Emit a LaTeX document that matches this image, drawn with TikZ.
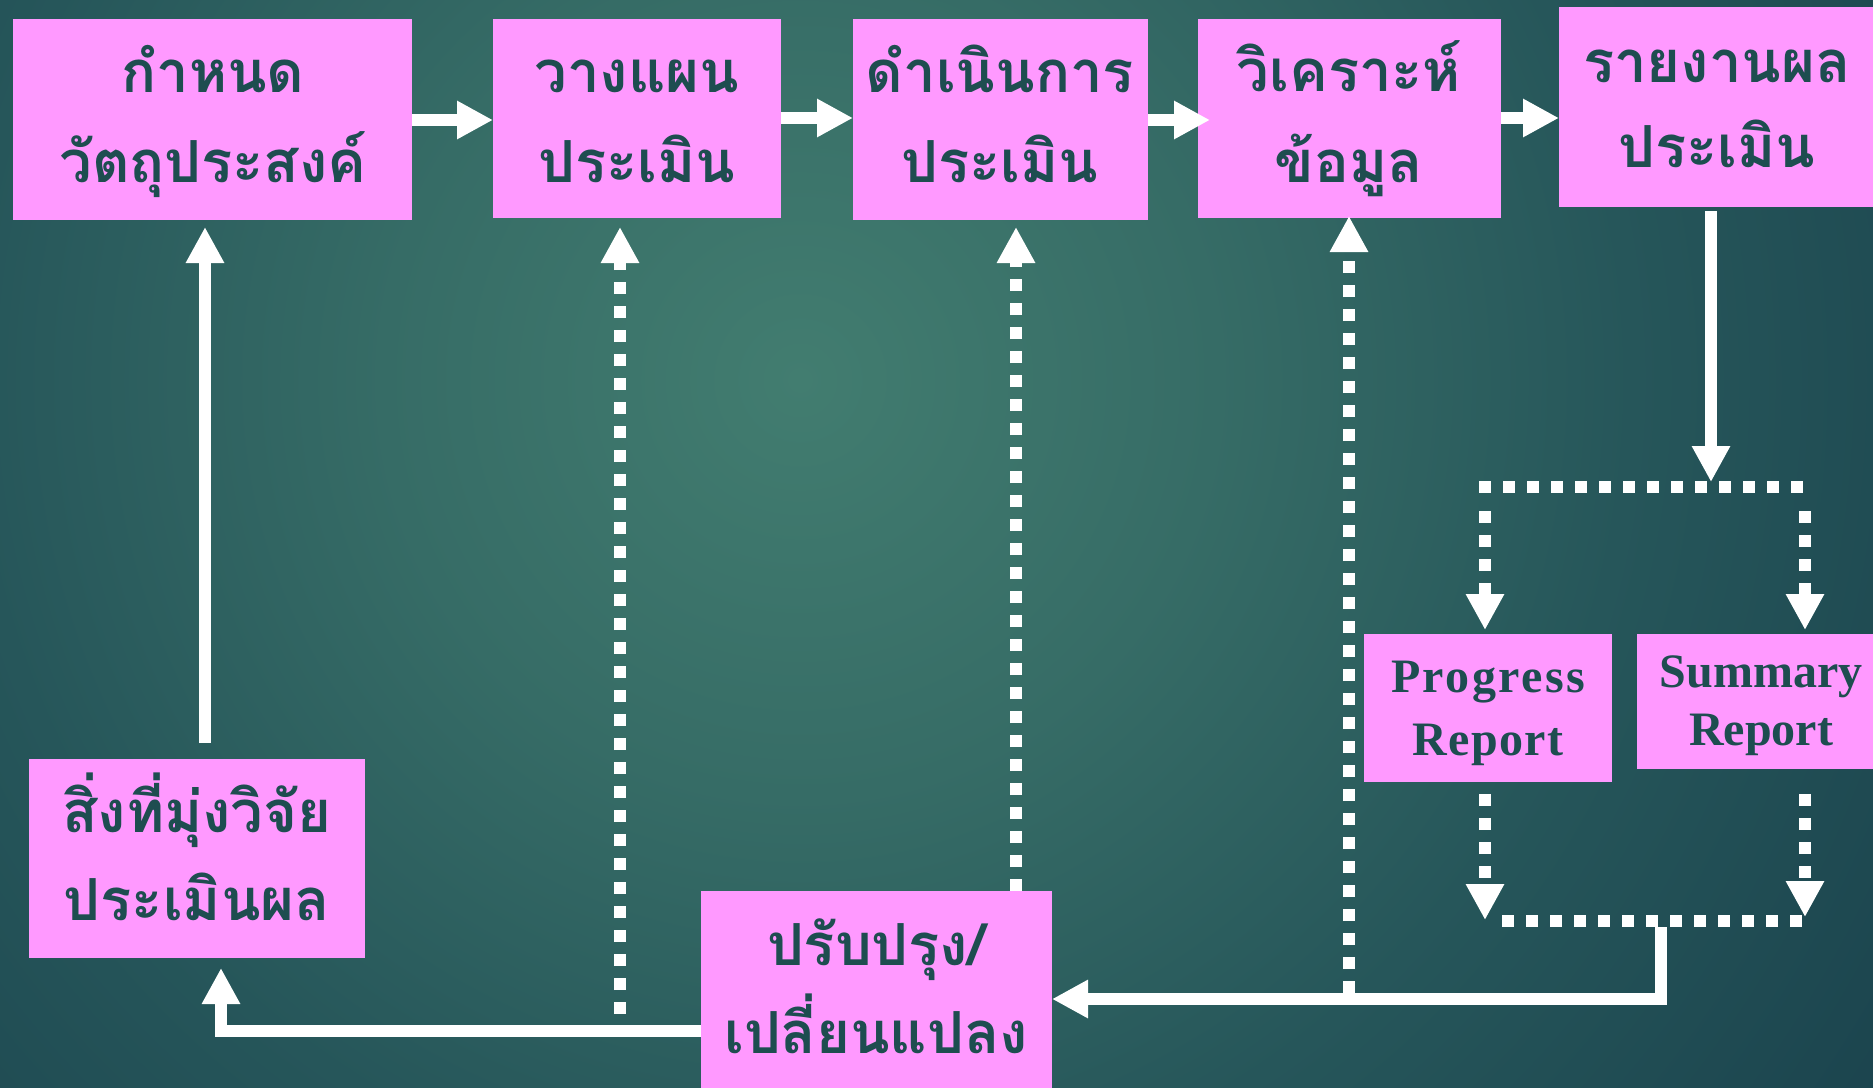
\documentclass[tikz,border=0pt]{standalone}
\usepackage{fontspec}
\setmainfont{Liberation Serif}
\newfontfamily\thaifont[Script=Thai]{Loma}
\usetikzlibrary{arrows.meta}
\definecolor{boxpink}{RGB}{255,153,255}
\definecolor{txtc}{RGB}{30,77,80}
\definecolor{bgA}{RGB}{66,125,112}
\definecolor{bgB}{RGB}{54,108,102}
\definecolor{bgC}{RGB}{38,86,90}
\definecolor{bgD}{RGB}{27,68,78}
\pgfdeclareradialshading{bgsh}{\pgfpoint{0bp}{0bp}}{color(0bp)=(bgA); color(8bp)=(bgB); color(16bp)=(bgC); color(25bp)=(bgD); color(50bp)=(bgD)}
\begin{document}
\begin{tikzpicture}[x=1pt,y=-1pt,
  box/.style={fill=boxpink, draw=none, inner sep=0pt, outer sep=0pt},
  th/.style={font=\thaifont\bfseries\fontsize{58}{60}\selectfont, text=txtc, inner sep=0pt, anchor=base},
  en/.style={font=\bfseries\fontsize{48}{50}\selectfont, text=txtc, inner sep=0pt, anchor=base},
  arr/.style={draw=white, line width=12pt, -{Triangle[length=36pt,width=36pt]}},
  darr/.style={arr, dash pattern=on 12pt off 12pt},
  dl/.style={draw=white, line width=12pt, dash pattern=on 12pt off 12pt}]
\useasboundingbox (0,0) rectangle (1873,1087);
\begin{scope}
\clip (0,0) rectangle (1873,1087);
\fill[bgD] (0,0) rectangle (1873,1087);
\shade[shading=bgsh] (800,380) circle (1300);
\end{scope}
\begin{scope}
\clip (0,0) rectangle (1873,1087);
% boxes
\node[box, minimum width=399pt, minimum height=201pt] (b1) at (212.5,119.5) {};
\node[box, minimum width=288pt, minimum height=199pt] (b2) at (637,118.5) {};
\node[box, minimum width=295pt, minimum height=201pt] (b3) at (1000.5,119.5) {};
\node[box, minimum width=303pt, minimum height=199pt] (b4) at (1349.5,118.5) {};
\node[box, minimum width=321pt, minimum height=200pt] (b5) at (1719.5,107) {};
\node[box, minimum width=336pt, minimum height=199pt] (s) at (197,858.5) {};
\node[box, minimum width=351pt, minimum height=199pt] (p) at (876.5,990.5) {};
\node[box, minimum width=248pt, minimum height=148pt] (pr) at (1488,708) {};
\node[box, minimum width=248pt, minimum height=135pt] (su) at (1761,701.5) {};
\end{scope}
% texts
\node[th] (t1a) at (213,92) {กำหนด};
\node[th] (t1b) at (213,182) {วัตถุประสงค์};
\node[th] (t2a) at (637,92) {วางแผน};
\node[th] (t2b) at (637,182) {ประเมิน};
\node[th] (t3a) at (1000,92) {ดำเนินการ};
\node[th] (t3b) at (1000,182) {ประเมิน};
\node[th] (t4a) at (1349,91) {วิเคราะห์};
\node[th] (t4b) at (1349,182) {ข้อมูล};
\node[th] (t5a) at (1717,82) {รายงานผล};
\node[th] (t5b) at (1717,167) {ประเมิน};
\node[th] (tsa) at (197,832) {สิ่งที่มุ่งวิจัย};
\node[th] (tsb) at (197,920) {ประเมินผล};
\node[th] (tpa) at (876,965) {ปรับปรุง/};
\node[th] (tpb) at (876,1053) {เปลี่ยนแปลง};
\node[en] (tra) at (1488,692) {\addfontfeature{LetterSpace=5}Progress};
\node[en] (trb) at (1488,755) {\addfontfeature{LetterSpace=3}Report};
\node[en] (tua) at (1761,687) {Summary};
\node[en] (tub) at (1761,745) {Report};
% coordinates
\coordinate (j) at (1711,487);
\coordinate (d2) at (620,1014);
\coordinate (d4) at (1349,993);
\coordinate (m) at (1661,927);
% top chain
\draw[arr] (b1.east |- 0,120) -- (b2.west |- 0,120);
\draw[arr] (b2.east |- 0,118) -- (b3.west |- 0,118);
\draw[arr, shorten >=-12pt] (b3.east |- 0,120) -- (b4.west |- 0,120);
\draw[arr] (b4.east |- 0,118) -- (b5.west |- 0,118);
% left loop
\draw[arr, shorten <=16pt, shorten >=7pt] (s.north -| 205,0) -- (b1.south -| 205,0);
\draw[arr, shorten >=10pt] (p.west |- 0,1031) -| (s.south -| 221,0);
% dotted feedback
\draw[darr, shorten >=9pt] (d2) -- (b2.south -| d2);
\draw[darr, shorten >=7pt] (p.north -| 1016,0) -- (b3.south -| 1016,0);
\draw[darr, shorten >=-2pt] (d4) -- (b4.south -| d4);
% report branch
\draw[arr, shorten <=4pt, shorten >=5pt] (b5.south -| j) -- (j);
\draw[dl] (1479,487) -- (1811,487);
\draw[darr, shorten >=4pt] (1485,511) -- (pr.north -| 1485,0);
\draw[darr, shorten >=4pt] (1805,511) -- (su.north -| 1805,0);
\draw[darr, shorten <=12pt, shorten >=1pt] (pr.south -| 1485,0) -- (1485,921);
\draw[darr, shorten <=25pt, shorten >=4pt] (su.south -| 1805,0) -- (1805,921);
\draw[dl] (1502,921) -- (1811,921);
\draw[arr] (m) |- (p.east |- 0,999);
\end{tikzpicture}
\end{document}
